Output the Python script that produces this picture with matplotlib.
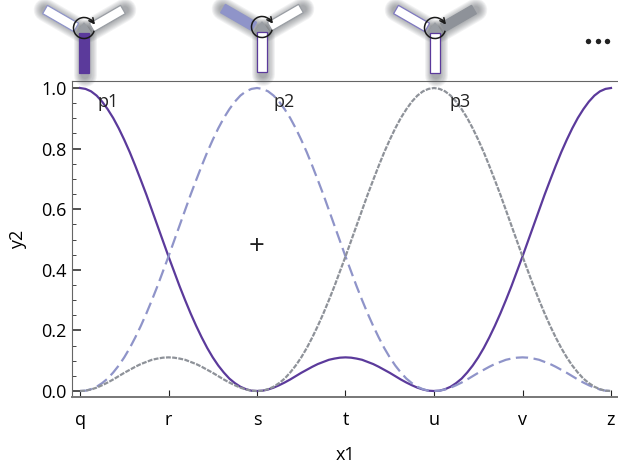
"""
Three-bladed rotor signal power vs. rotation angle, with rotor icons above the plot
"""
import matplotlib
matplotlib.use('Agg')
import matplotlib.pyplot as plt
from matplotlib.patches import Arc, Polygon
import numpy as np

plt.rcParams['font.family'] = ['Open Sans', 'DejaVu Sans']

# Values, one every sixteenth of a tick step
x_pos = [i / 16 for i in range(97)]
tick_labels = ['q', 'r', 's', 't', 'u', 'v', 'z']

p1 = [1.000, 0.997, 0.989, 0.975, 0.955, 0.930, 0.901, 0.867, 0.829, 0.788, 0.743, 0.696,
      0.648, 0.597, 0.546, 0.495, 0.444, 0.395, 0.346, 0.300, 0.256, 0.215, 0.177, 0.142,
      0.111, 0.084, 0.061, 0.041, 0.026, 0.014, 0.006, 0.001, 0.000, 0.001, 0.005, 0.011,
      0.019, 0.028, 0.038, 0.049, 0.060, 0.070, 0.080, 0.089, 0.096, 0.103, 0.107, 0.110,
      0.111, 0.110, 0.107, 0.103, 0.096, 0.089, 0.080, 0.070, 0.060, 0.049, 0.038, 0.028,
      0.019, 0.011, 0.005, 0.001, 0.000, 0.001, 0.006, 0.014, 0.026, 0.041, 0.061, 0.084,
      0.111, 0.142, 0.177, 0.215, 0.256, 0.300, 0.346, 0.395, 0.444, 0.495, 0.546, 0.597,
      0.648, 0.696, 0.743, 0.788, 0.829, 0.867, 0.901, 0.930, 0.955, 0.975, 0.989, 0.997,
      1.000]
p2 = [0.000, 0.001, 0.006, 0.014, 0.026, 0.041, 0.061, 0.084, 0.111, 0.142, 0.177, 0.215,
      0.256, 0.300, 0.346, 0.395, 0.444, 0.495, 0.546, 0.597, 0.648, 0.696, 0.743, 0.788,
      0.829, 0.867, 0.901, 0.930, 0.955, 0.975, 0.989, 0.997, 1.000, 0.997, 0.989, 0.975,
      0.955, 0.930, 0.901, 0.867, 0.829, 0.788, 0.743, 0.696, 0.648, 0.597, 0.546, 0.495,
      0.444, 0.395, 0.346, 0.300, 0.256, 0.215, 0.177, 0.142, 0.111, 0.084, 0.061, 0.041,
      0.026, 0.014, 0.006, 0.001, 0.000, 0.001, 0.005, 0.011, 0.019, 0.028, 0.038, 0.049,
      0.060, 0.070, 0.080, 0.089, 0.096, 0.103, 0.107, 0.110, 0.111, 0.110, 0.107, 0.103,
      0.096, 0.089, 0.080, 0.070, 0.060, 0.049, 0.038, 0.028, 0.019, 0.011, 0.005, 0.001,
      0.000]
p3 = [0.000, 0.001, 0.005, 0.011, 0.019, 0.028, 0.038, 0.049, 0.060, 0.070, 0.080, 0.089,
      0.096, 0.103, 0.107, 0.110, 0.111, 0.110, 0.107, 0.103, 0.096, 0.089, 0.080, 0.070,
      0.060, 0.049, 0.038, 0.028, 0.019, 0.011, 0.005, 0.001, 0.000, 0.001, 0.006, 0.014,
      0.026, 0.041, 0.061, 0.084, 0.111, 0.142, 0.177, 0.215, 0.256, 0.300, 0.346, 0.395,
      0.444, 0.495, 0.546, 0.597, 0.648, 0.696, 0.743, 0.788, 0.829, 0.867, 0.901, 0.930,
      0.955, 0.975, 0.989, 0.997, 1.000, 0.997, 0.989, 0.975, 0.955, 0.930, 0.901, 0.867,
      0.829, 0.788, 0.743, 0.696, 0.648, 0.597, 0.546, 0.495, 0.444, 0.395, 0.346, 0.300,
      0.256, 0.215, 0.177, 0.142, 0.111, 0.084, 0.061, 0.041, 0.026, 0.014, 0.006, 0.001,
      0.000]

PURPLE = '#5b3a9b'
BLUE = '#8f94c9'
GRAY = '#8e9299'
W, H = 618, 472

fig = plt.figure(figsize=(W / 100, H / 100), dpi=100)
ax = fig.add_axes([72 / W, (H - 397) / H, (W - 72) / W, 316 / H])

ax.plot(x_pos, p1, color=PURPLE, lw=1.6, solid_joinstyle='round', zorder=3)
ax.plot(x_pos, p2, color=BLUE, lw=1.6, dashes=(5.5, 2.5), zorder=4)
ax.plot(x_pos, p3, color=GRAY, lw=1.6, dashes=(2.2, 0.6), zorder=5)

ax.set_xlim(-8 / 88.5, 6 + 7 / 88.5)
ax.set_ylim(-6 / 303, 1 + 7 / 303)
ax.set_xticks(range(7))
ax.set_xticklabels(tick_labels)
ax.set_yticks([0, 0.2, 0.4, 0.6, 0.8, 1.0])
ax.set_yticks(np.arange(0, 1.01, 0.05), minor=True)
ax.tick_params(axis='y', which='major', direction='in', length=6.5, width=1.1, labelsize=13, pad=4, color='#222222')
ax.tick_params(axis='y', which='minor', direction='in', length=3, width=0.7, color='#444444')
ax.tick_params(axis='x', direction='in', length=5, width=0.8, labelsize=13, pad=10, color='#222222')

ax.set_xlabel('x1', fontsize=13, labelpad=12)
ax.set_ylabel('y2', fontsize=13, labelpad=10)

ax.spines['right'].set_visible(False)
ax.spines['top'].set_color('#666666')
ax.spines['left'].set_color('#666666')
ax.spines['bottom'].set_color('#777777')
ax.spines['bottom'].set_linewidth(1.4)

for label, lx in [('p1', 0.32), ('p2', 2.31), ('p3', 4.29)]:
    ax.text(lx, 0.955, label, fontsize=13, ha='center', va='center', color='#222222', zorder=6)
ax.text(2.0, 0.475, '+', fontsize=20, ha='center', va='center', color='#222222', zorder=6)

# Overlay in pixel coordinates for the rotor icons
ov = fig.add_axes([0, 0, 1, 1], facecolor='none')
ov.set_xlim(0, W)
ov.set_ylim(H, 0)
ov.axis('off')


def arm_corners(cx, cy, ang, r0, r1, hw):
    d = np.array([np.cos(np.radians(ang)), np.sin(np.radians(ang))])
    n = np.array([-d[1], d[0]])
    c = np.array([cx, cy])
    return [c + d * r0 + n * hw, c + d * r1 + n * hw, c + d * r1 - n * hw, c + d * r0 - n * hw]


def draw_rotor(cx, cy, down, left, right):
    arms = [(90, 1, 41, down), (210, 9, 45, left), (330, 9, 45, right)]
    # soft shadow, stacked translucent lines
    for ang, r0, r1, _ in arms:
        d = np.array([np.cos(np.radians(ang)), np.sin(np.radians(ang))])
        for k in range(1, 9):
            ov.plot([cx + 4 * d[0] + 1, cx + (r1 + 1) * d[0] + 1], [cy + 4 * d[1] + 1, cy + (r1 + 1) * d[1] + 1],
                    color='#4a4f55', alpha=0.075, lw=(6 + 2.1 * k) * 0.72, solid_capstyle='round', zorder=1)
    ov.add_patch(Polygon([(cx - 7, cy + 1), (cx + 7, cy + 1), (cx, cy - 9)], color='#9a9ea4', zorder=2))
    for ang, r0, r1, (face, edge) in arms:
        ov.add_patch(Polygon(arm_corners(cx, cy, ang, r0, r1, 4.8), facecolor=face, edgecolor=edge, lw=0.9, zorder=3))
    # rotation arrow
    ox, oy = cx, cy - 4
    ov.add_patch(Arc((ox, oy), 21, 21, theta1=15, theta2=335, color='#1a1a1a', lw=1.1, zorder=4))
    ov.annotate('', xy=(ox + 11, oy - 3.5), xytext=(ox + 7.5, oy - 8),
                arrowprops=dict(arrowstyle='->', color='#1a1a1a', lw=1.1, mutation_scale=9,
                                shrinkA=0, shrinkB=0), zorder=5)


draw_rotor(84, 32, (PURPLE, PURPLE), ('white', '#8f94c9'), ('white', '#9a9ea4'))
draw_rotor(262, 31, ('white', PURPLE), (BLUE, BLUE), ('white', '#9a9ea4'))
draw_rotor(435, 32, ('white', PURPLE), ('white', '#7f78c0'), (GRAY, GRAY))

ov.plot([588, 597.5, 607], [41, 41, 41], 'o', color='#222222', ms=3.9, mew=0, zorder=5)

fig.savefig('out.png', dpi=100, facecolor='white')
plt.close()
